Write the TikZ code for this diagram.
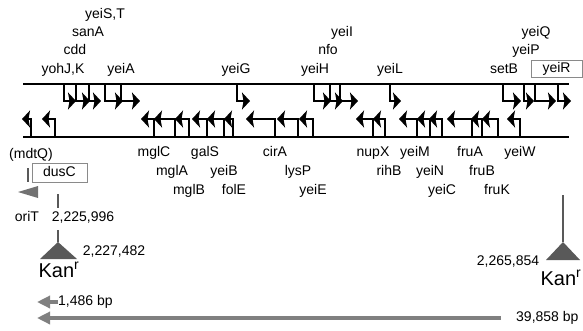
\documentclass[tikz,border=0pt]{standalone}
\usepackage{fontspec}
\setmainfont{Liberation Sans}
\usetikzlibrary{arrows.meta}
\definecolor{markgray}{HTML}{595959}
\definecolor{bargray}{HTML}{808080}
\definecolor{boxgray}{HTML}{8A8A8A}
\begin{document}
\begin{tikzpicture}[x=1pt,y=-1pt,
  lbl/.style={font=\fontsize{14}{16}\selectfont, inner sep=0pt, text height=10pt, text depth=3pt},
  kan/.style={font=\fontsize{20}{22}\selectfont, inner sep=0pt},
  strand/.style={line width=2pt},
  prom/.style={line width=1.5pt, -{Stealth[length=8pt,width=17pt,inset=1.5pt]}},
  genebox/.style={lbl, draw=boxgray, line width=1pt},
  marker/.style={draw=markgray, line width=2pt},
  sizebar/.style={draw=bargray, line width=4.5pt, -{Triangle[length=13pt,width=12pt]}}]
\useasboundingbox (0,0) rectangle (583,330);

% DNA strands
\draw[strand] (23,84) -- (569,84);
\draw[strand] (23,137) -- (569,137);

% promoters on the upper strand (branch x / arrow tip x)
\foreach \v/\t in {64/76, 76/90, 89/101, 105/123, 121/140, 237/250, 314/331,
                   330/343, 340/358, 390/401, 503/521, 524/534, 535/556, 558/571}
  \draw[prom] (\v,84) |- (\t,101);

% promoters on the lower strand (branch x / arrow tip x)
\foreach \v/\t in {31/22, 55/42, 154/141, 175/154, 189/175, 207/192, 224/207,
                   233/224, 275/246, 298/277, 313/299, 373/356, 385/373, 417/399,
                   430/417, 442/429, 472/447, 482/471, 498/482, 520/507}
  \draw[prom] (\v,137) |- (\t,119);

% gene names above
\node[lbl] (yohJ) at (63,70) {yohJ,K};
\node[lbl] (cdd) at (75,51) {cdd};
\node[lbl] (sanA) at (88,33) {sanA};
\node[lbl] (yeiS) at (105,15) {yeiS,T};
\node[lbl] (yeiA) at (121,70) {yeiA};
\node[lbl] (yeiG) at (236,70) {yeiG};
\node[lbl] (yeiH) at (315,70) {yeiH};
\node[lbl] (nfo) at (328,51) {nfo};
\node[lbl] (yeiI) at (342,33) {yeiI};
\node[lbl] (yeiL) at (390,70) {yeiL};
\node[lbl] (setB) at (504,70) {setB};
\node[lbl] (yeiP) at (526,51) {yeiP};
\node[lbl] (yeiQ) at (536,33) {yeiQ};
\node[genebox, minimum width=51pt, minimum height=17pt] (yeiR) at (556.5,68.5) {yeiR};

% gene names below
\node[lbl] (mdtQ) at (31,155) {(mdtQ)};
\node[genebox, minimum width=55pt, minimum height=19pt] (dusC) at (59.5,172.5) {dusC};
\node[lbl] (mglC) at (154,153) {mglC};
\node[lbl] (mglA) at (172,172) {mglA};
\node[lbl] (mglB) at (189,191) {mglB};
\node[lbl] (galS) at (205,153) {galS};
\node[lbl] (yeiB) at (224,172) {yeiB};
\node[lbl] (folE) at (234,191) {folE};
\node[lbl] (cirA) at (275,153) {cirA};
\node[lbl] (lysP) at (298,172) {lysP};
\node[lbl] (yeiE) at (313,191) {yeiE};
\node[lbl] (nupX) at (373,153) {nupX};
\node[lbl] (rihB) at (389,172) {rihB};
\node[lbl] (yeiM) at (415,153) {yeiM};
\node[lbl] (yeiN) at (430,172) {yeiN};
\node[lbl] (yeiC) at (442,191) {yeiC};
\node[lbl] (fruA) at (470,153) {fruA};
\node[lbl] (fruB) at (482,172) {fruB};
\node[lbl] (fruK) at (497,191) {fruK};
\node[lbl] (yeiW) at (520,153) {yeiW};

% oriT end of the deletion
\draw[marker] (28,168) -- (28,182);
\fill[markgray!85] (18,192) -- (38,186) -- (38,198) -- cycle;
\node[lbl] (oriT) at (27,218) {oriT};
\node[lbl] (posA) at (83,218) {2,225,996};
\draw[marker] (58,194) -- (58,208);
\draw[marker] (58,230) -- (58,242);
\fill[markgray] (58,242) -- (77,259) -- (40,259) -- cycle;
\node[lbl] (posB) at (114,252) {2,227,482};
\node[kan] (kanL) at (59,270) {Kan\textsuperscript{r}};

% far end of the deletion
\draw[marker] (563,195) -- (563,242);
\fill[markgray] (563,242) -- (580,260) -- (546,260) -- cycle;
\node[lbl] (posC) at (508,262) {2,265,854};
\node[kan] (kanR) at (561,278) {Kan\textsuperscript{r}};

% deletion sizes
\coordinate (shortEnd) at (37,302);
\coordinate (longEnd) at (37,318);
\node[lbl, anchor=west] (shortLbl) at (58,302) {1,486 bp};
\node[lbl, anchor=west] (longLbl) at (516,318) {39,858 bp};
\draw[sizebar] (58,302) -- (shortEnd);
\draw[sizebar] (501,318) -- (longEnd);
\end{tikzpicture}
\end{document}
